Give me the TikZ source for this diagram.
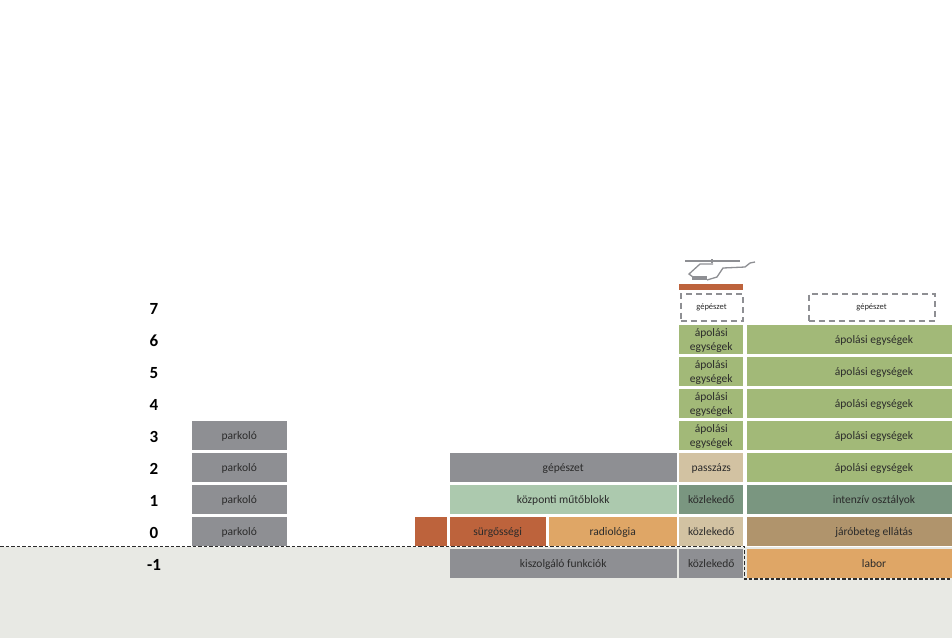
\documentclass[tikz,border=0pt]{standalone}
\usepackage{fontspec}
\setmainfont{Carlito}
\definecolor{hpgrey}{HTML}{8E8F93}
\definecolor{hpgreen}{HTML}{A2B978}
\definecolor{hpdgreen}{HTML}{7A9680}
\definecolor{hpmint}{HTML}{ACC9AE}
\definecolor{hpsand}{HTML}{D2C2A2}
\definecolor{hpbrown}{HTML}{B0946C}
\definecolor{hporange}{HTML}{DFA666}
\definecolor{hpred}{HTML}{BD633C}
\definecolor{hpground}{HTML}{E8E9E4}
\definecolor{hpink}{HTML}{2B2B2B}
\tikzset{
  block/.style={rectangle, anchor=north west, inner sep=0pt, outer sep=0pt, text=hpink, text depth=-4.5pt, font=\fontsize{11.5}{14}\selectfont, align=center, minimum height=29pt},
  parkblock/.style={block, fill=hpgrey, minimum width=95.5pt},
  wardnarrow/.style={block, fill=hpgreen, minimum width=64pt},
  wardwide/.style={block, fill=hpgreen, minimum width=255pt},
  coreblock/.style={block, minimum width=64pt},
  plant/.style={block, draw=hpgrey, line width=2pt, dash pattern=on 6pt off 4pt, minimum height=27pt, font=\fontsize{8.5}{10}\selectfont},
  level/.style={anchor=center, text=black, font=\fontsize{17}{19}\selectfont\bfseries},
  heli/.style={draw=hpgrey, line width=1.3pt}
}
\begin{document}
\begin{tikzpicture}[x=1pt, y=-1pt]
  \useasboundingbox (0,0) rectangle (952,638);
  % ground
  \fill[hpground] (0,547) rectangle (952,638);
  % levels
  \foreach \lab/\y in {7/309, 6/341, 5/373, 4/405, 3/437, 2/469, 1/501, 0/533, -1/565}
    \node[level] (lev\lab) at (154,\y) {\lab};
  % parking
  \foreach \y [count=\i] in {421, 453, 485, 517}
    \node[parkblock] (park\i) at (191.5,\y) {parkoló};
  % podium
  \node[block, fill=hpgrey, minimum width=227pt] (plantlow) at (449.7,453) {gépészet};
  \node[block, fill=hpmint, minimum width=227pt] (surgery) at (449.7,485) {központi műtőblokk};
  \node[block, fill=hpred, minimum width=31.5pt, minimum height=28.5pt] (annex) at (415,517) {};
  \node[block, fill=hpred, minimum width=96pt, minimum height=28.5pt] (er) at (449.7,517) {sürgősségi};
  \node[block, fill=hporange, minimum width=128pt, minimum height=28.5pt] (radio) at (548.7,517) {radiológia};
  \node[block, fill=hpgrey, minimum width=227pt] (service) at (449.7,548.5) {kiszolgáló funkciók};
  % core
  \foreach \y [count=\i] in {325, 357, 389, 421}
    \node[wardnarrow] (wardn\i) at (679.3,\y) {ápolási\\egységek};
  \node[coreblock, fill=hpsand] (passage) at (679.3,453) {passzázs};
  \node[coreblock, fill=hpdgreen] (core1) at (679.3,485) {közlekedő};
  \node[coreblock, fill=hpsand, minimum height=28.5pt] (core0) at (679.3,517) {közlekedő};
  \node[coreblock, fill=hpgrey] (coreb) at (679.3,548.5) {közlekedő};
  % wards
  \foreach \y [count=\i] in {325, 357, 389, 421, 453}
    \node[wardwide] (ward\i) at (746.5,\y) {ápolási egységek};
  \node[wardwide, fill=hpdgreen] (icu) at (746.5,485) {intenzív osztályok};
  \node[wardwide, fill=hpbrown, minimum height=28.5pt] (clinic) at (746.5,517) {járóbeteg ellátás};
  \node[wardwide, fill=hporange] (lab) at (746.5,548.5) {labor};
  % plant on roof
  \node[plant, minimum width=62pt] (plantn) at (680.5,293.5) {gépészet};
  \node[plant, minimum width=126pt] (plantw) at (808.5,293.5) {gépészet};
  % helipad
  \fill[hpred] (679.3,284) rectangle (743.3,290);
  \path[heli] (685,261) -- (740,261);
  \path[heli] (712,259) -- (712,263);
  \path[heli] (713,264) -- (700,264) -- (689,274) -- (693,277);
  \fill[hpgrey] (692,276) rectangle (707,280);
  \path[heli] (707,280) -- (717,277) -- (723,268) -- (745,267) -- (750,263) -- (755,262);
  % ground line
  \coordinate (gl) at (0,546.5);
  \coordinate (gm) at (744.5,546.5);
  \coordinate (gb) at (744.5,579);
  \coordinate (gr) at (952,579);
  \draw[hpink, line width=1.2pt, dash pattern=on 3.5pt off 2pt] (gl) -- (gm) -- (gb) -- (gr);
\end{tikzpicture}
\end{document}
